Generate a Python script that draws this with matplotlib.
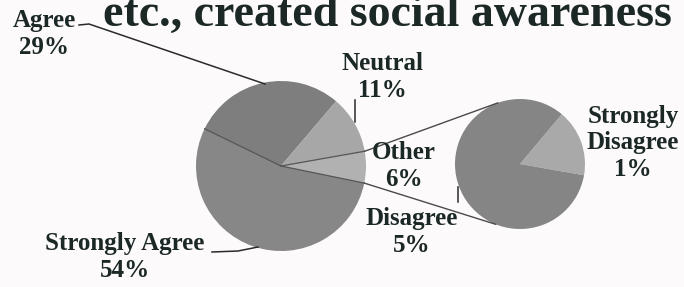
import numpy as np
import matplotlib.pyplot as plt

# data
main_labels = ['Agree', 'Neutral', 'Other', 'Strongly Agree']
main_values = [29, 11, 6, 54]
sub_labels = ['Strongly Disagree', 'Disagree']
sub_values = [1, 5]

title = 'etc., created social awareness'

W, H = 684, 287
bg = '#fdfafc'
txt = '#1b2826'
serif = 'Liberation Serif'


def Y(y):
    # image rows -> axes coords (y up)
    return H - y


fig = plt.figure(figsize=(W / 100, H / 100), dpi=100, facecolor=bg)
ax = fig.add_axes([0, 0, 1, 1])
ax.set_facecolor(bg)

# main pie
c1, r1 = (281, Y(166)), 85
start1 = 154
ax.pie(main_values, colors=['#7e7e7e', '#a7a7a7', '#b1b1b1', '#878787'],
       startangle=start1, counterclock=False, center=c1, radius=r1,
       wedgeprops=dict(linewidth=0), frame=True)

# secondary pie
c2, r2 = (520, Y(164)), 65
ax.pie(sub_values, colors=['#a9a9a9', '#858585'],
       startangle=50, counterclock=False, center=c2, radius=r2,
       wedgeprops=dict(linewidth=0), frame=True)

# slice boundaries drawn as lines
cum = np.cumsum([0] + main_values) / sum(main_values) * 360
ang = start1 - cum
def edge(c, r, a):
    t = np.deg2rad(a)
    return c[0] + r * np.cos(t), c[1] + r * np.sin(t)

for a in [ang[0], ang[2], ang[3]]:
    x, y = edge(c1, r1, a)
    ax.plot([c1[0], x], [c1[1], y], color='#555555', lw=0.9)

# connector lines to the secondary pie
p_top = edge(c1, r1, ang[2])
p_bot = edge(c1, r1, ang[3])
q_top = edge(c2, r2, 110)
q_bot = edge(c2, r2, 248)
ax.plot([p_top[0], q_top[0]], [p_top[1], q_top[1]], color='#4a4a4a', lw=1.0)
ax.plot([p_bot[0], q_bot[0]], [p_bot[1], q_bot[1]], color='#4a4a4a', lw=1.0)

# leader lines
lk = dict(color='#2a2a2a', lw=1.1)
ax.plot([79, 89, 265], [Y(25), Y(24), Y(84)], **lk)
ax.plot([355, 355], [Y(100), Y(122)], **lk)
ax.plot([458, 458], [Y(187), Y(202)], **lk)
ax.plot([212, 238, 258], [Y(252), Y(251), Y(247)], **lk)

# labels
fs = 18
tk = dict(ha='center', va='center', fontsize=fs, fontfamily=serif,
          fontweight='bold', color=txt, linespacing=1.2)
label_pos = {
    'Agree': (44, 34),
    'Neutral': (382, 77),
    'Other': (404, 166),
    'Strongly Agree': (125, 257),
}
for lab, v in zip(main_labels, main_values):
    x, y = label_pos[lab]
    ax.text(x, Y(y), f'{lab}\n{v}%', **tk)

sub_pos = {
    'Strongly Disagree': (633, 143),
    'Disagree': (412, 232),
}
for lab, v in zip(sub_labels, sub_values):
    x, y = sub_pos[lab]
    ax.text(x, Y(y), f"{lab.replace(' ', chr(10))}\n{v}%", **tk)

fig.text(103 / W, 1 - 26 / H, title, ha='left', va='baseline',
         fontsize=33, fontfamily=serif, fontweight='bold', color=txt)

ax.set_xlim(0, W)
ax.set_ylim(0, H)
ax.set_aspect('equal')
ax.axis('off')

fig.savefig('out.png', dpi=100, facecolor=bg)
